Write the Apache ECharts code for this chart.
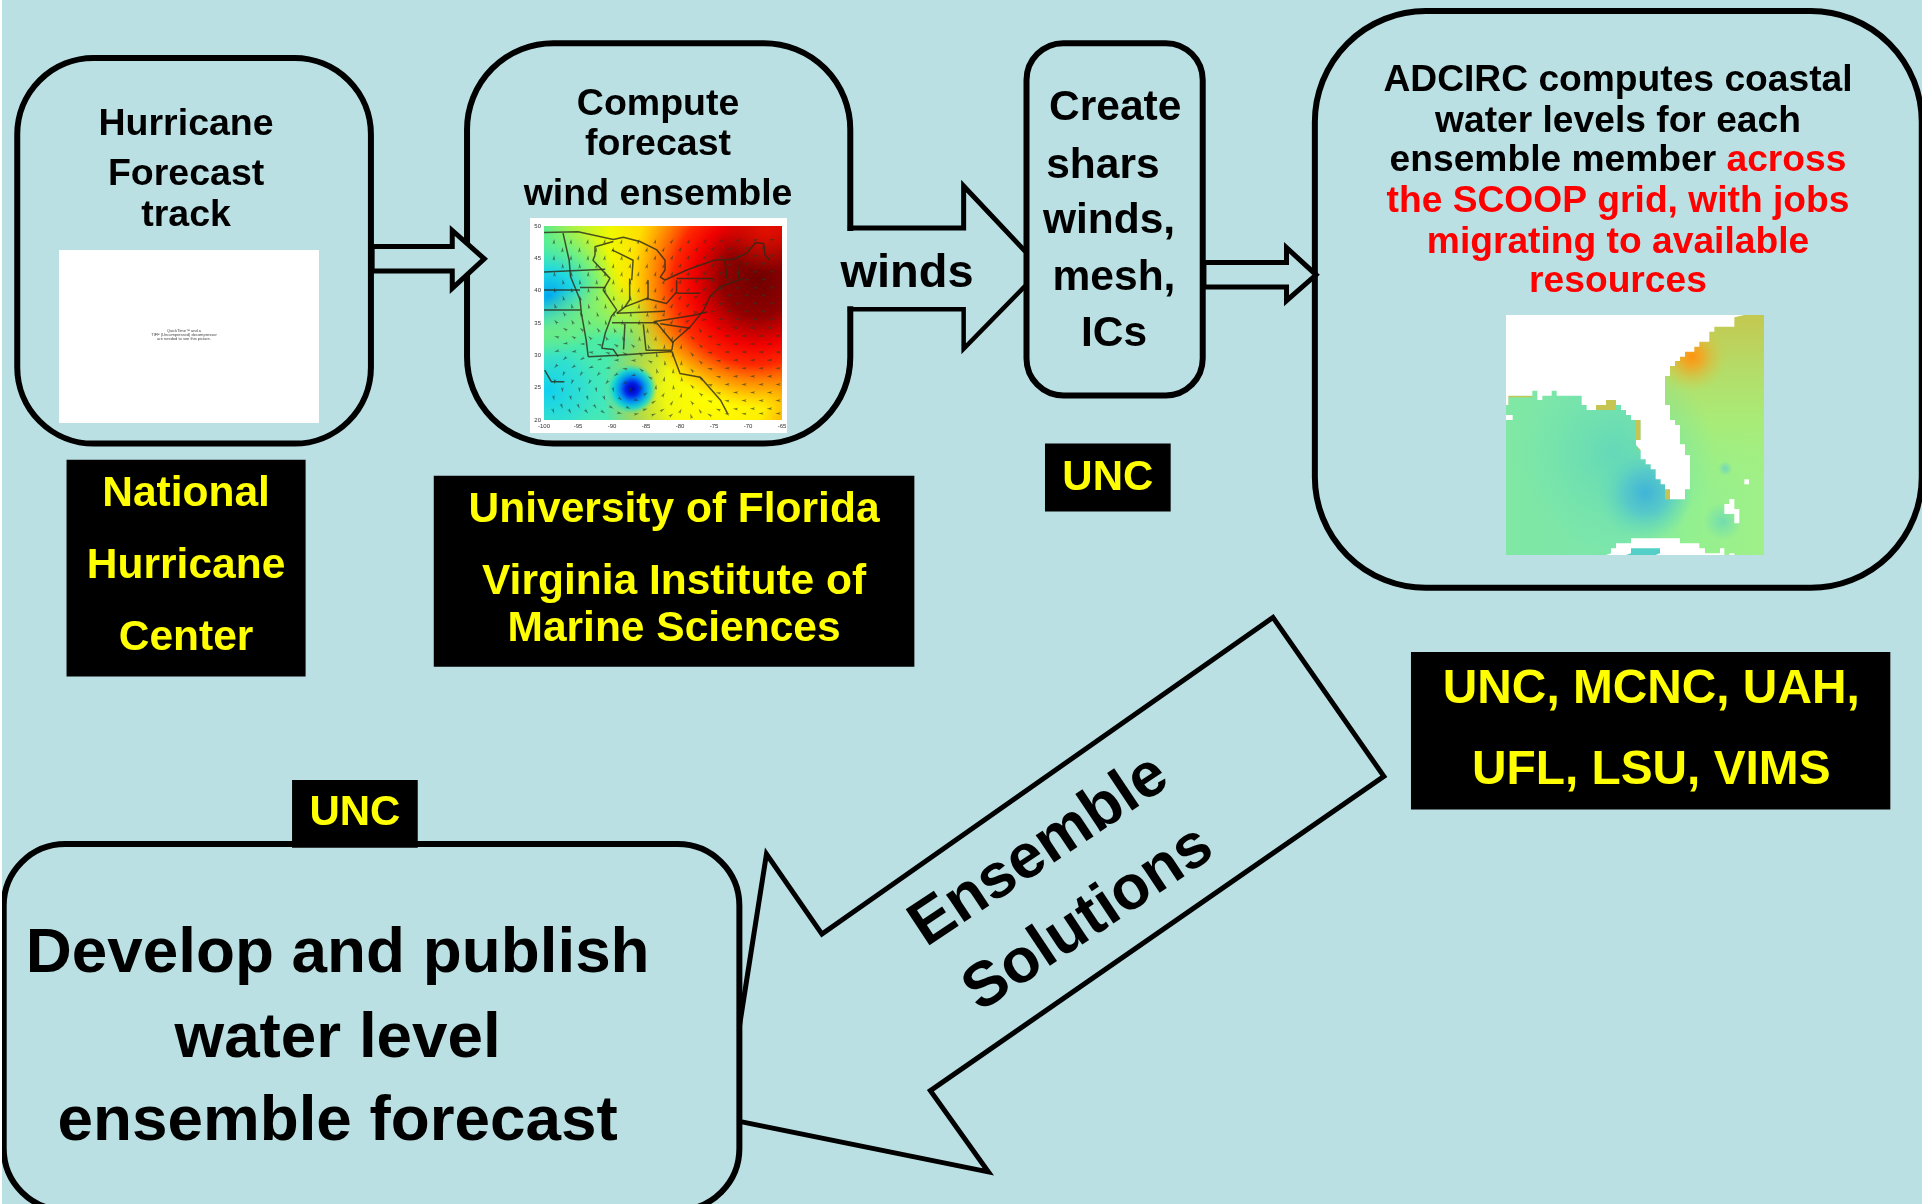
<!DOCTYPE html>
<html><head><meta charset="utf-8">
<style>html,body{margin:0;padding:0;background:#fff}#c{width:1931px;height:1204px}</style>
<script src="https://cdn.jsdelivr.net/npm/echarts@6/dist/echarts.min.js"></script></head>
<body><div id="c"></div>
<script>
// ---------- text content ----------
const trackLines = ['Hurricane','Forecast','track'];
const windLines = ['Compute','forecast','wind ensemble'];
const createLines = ['Create','shars','winds,','mesh,','ICs'];
const adcircBlack = ['ADCIRC computes coastal','water levels for each','ensemble member '];
const adcircRed = ['across','the SCOOP grid, with jobs','migrating to available','resources'];
const publishLines = ['Develop and publish','water level','ensemble forecast'];
const arrowLines = ['Ensemble','Solutions'];
const nhcLines = ['National','Hurricane','Center'];
const uflLines = ['University of Florida','Virginia Institute of','Marine Sciences'];
const partnerLines = ['UNC, MCNC, UAH,','UFL, LSU, VIMS'];
const uncLabel = 'UNC';
const windsLabel = 'winds';
const quickTimeLines = ['QuickTime\u2122 and a','TIFF (Uncompressed) decompressor','are needed to see this picture.'];

// ---------- wind map: axes, wind directions, boundaries (lon/lat) ----------
const windLons = [-98.5,-96,-93.5,-91,-88.5,-86,-83.5,-81,-78.5,-76,-73.5,-71,-68.5,-66];
const windLats = [48,45.5,43,40.5,38,35.5,33,30.5,28,25.5,23,21];
const windDirs = [
 [-5,-5,-10,-10,-15,-15,-20,-30,-30,-40,-50,-60,-70,-75],
 [-5,-5,-5,-10,-10,-15,-20,-25,-35,-45,-55,-65,-75,-80],
 [5,5,0,-5,-10,-15,-15,-25,-35,-50,-60,-70,-80,-85],
 [10,10,5,0,-5,-10,-15,-25,-40,-55,-70,-80,-85,-90],
 [20,15,10,5,0,-5,-10,-30,-50,-70,-85,-90,-95,-95],
 [40,30,20,10,5,0,-10,-30,-60,-90,-100,-100,-100,-100],
 [70,60,45,30,20,5,-10,-20,50,80,90,90,90,90],
 [110,100,85,70,60,35,10,-5,40,80,90,90,90,90],
 [140,125,110,95,80,50,15,0,40,80,90,90,90,90],
 [170,160,150,140,120,20,-5,5,45,80,90,90,90,90],
 [190,190,195,200,230,-100,-60,-30,40,75,85,90,90,90],
 [200,210,220,235,260,-80,-70,-50,20,60,80,85,90,90]
];
const windLons2 = [-97.25,-94.75,-92.25,-89.75,-87.25,-84.75,-82.25,-79.75,-77.25,-74.75,-72.25,-69.75,-67.25];
const windLats2 = [46.75,44.25,41.75,39.25,36.75,34.25,31.75,29.25,26.75,24.25,21.75];
const windDirs2 = [
 [-5,-5,-10,-12,-15,-18,-25,-30,-40,-50,-60,-70,-78],
 [0,0,-5,-8,-12,-15,-20,-30,-42,-55,-65,-75,-85],
 [8,5,0,-5,-8,-12,-20,-30,-48,-62,-75,-85,-90],
 [15,12,8,2,-2,-8,-18,-35,-60,-78,-90,-95,-95],
 [35,25,15,8,2,-5,-18,-45,-80,-95,-100,-100,-100],
 [60,50,35,22,12,-2,-15,-30,30,80,90,90,90],
 [100,90,75,60,50,20,-5,-10,45,80,90,90,90],
 [130,120,105,90,85,60,5,-5,45,80,90,90,90],
 [160,150,140,125,110,60,-10,0,45,80,90,90,90],
 [185,185,190,190,180,-60,-30,-10,50,80,90,90,90],
 [200,205,215,240,-110,-75,-60,-30,30,70,85,90,90]
];
const borderUS = [[-100,49],[-95,49.1],[-89.8,47.9],[-88.35,48.25],[-85.9,47.6],[-83.4,46.3],[-82.2,44.7],[-82.2,43.2],[-82.9,42.1],[-82.2,41.65],[-79,43.2],[-75,44.7],[-72.1,44.85],[-70.2,45.8],[-68.9,47.4],[-67.7,47.3],[-67.5,45.5],[-66.8,44.7]];
const westLine = [[-97.2,48.9],[-96.3,44.7],[-96.1,42.2],[-94.7,38.6],[-94.5,36.5],[-93.8,32.4],[-93.5,29.8]];
const line43 = [[-100,42.9],[-91,43.3]];
const line40 = [[-100,40.1],[-94.7,40.1]];
const line37 = [[-100,37],[-94.6,37]];
const iowaLine = [[-94.7,40.5],[-91,40.5]];
const mississippi = [[-92.5,45.5],[-92.8,44.7],[-90.3,41.9],[-91.3,40.1],[-89.3,37],[-90.1,36],[-91,33.4],[-91.5,31.1],[-89.8,30.9],[-89.1,29.8]];
const wisconsin = [[-92.5,45.5],[-92.5,46.8],[-89.8,47.6]];
const michigan = [[-90,46.3],[-86.9,44.7],[-87.1,41.6]];
const illinoisLine = [[-87.4,41.9],[-87.4,38.6],[-88.1,37.5]];
const ohioLine = [[-84.7,41.6],[-84.7,38.8]];
const ohioRiver = [[-89.3,36.5],[-88.1,37.5],[-84.9,38.8],[-82,38],[-80.5,39.8],[-80.5,41.6]];
const tennessee = [[-89.3,36.5],[-82.2,36.8]];
const virginia = [[-83.9,35.2],[-78,36.2],[-76,36.7]];
const missAlabama = [[-88.1,34.9],[-88.3,30.9]];
const alabamaGeorgia = [[-85.4,34.8],[-85,30.8],[-81.2,30.8]];
const tennSouth = [[-90,35.05],[-83.4,35.05]];
const carolina = [[-83.4,35],[-81,31.9]];
const northCarolina = [[-82.9,34.9],[-78.5,34.2]];
const eastCoast = [[-81.2,30.8],[-81,32.1],[-78.5,34.4],[-76.5,37],[-75.6,39.1],[-74.1,40.6],[-70.7,41.9]];
const penn = [[-80.5,41.9],[-75,41.9]];
const pennSouth = [[-80.5,39.6],[-77,39.6]];
const vermont = [[-73.4,44.7],[-73.1,41.9]];
const maine = [[-71.2,44.7],[-71.4,41.9]];
const mexico = [[-99.9,27.7],[-98.9,25.9],[-97,25.9]];
const gulfCoast = [[-93.5,29.8],[-89.1,30],[-85.4,30.3],[-81.2,30.6],[-80,27.2],[-77,26.6],[-74,23],[-73,21]];
const boundaries = [borderUS,westLine,line43,line40,line37,iowaLine,mississippi,wisconsin,michigan,illinoisLine,ohioLine,ohioRiver,tennessee,virginia,missAlabama,alabamaGeorgia,tennSouth,carolina,northCarolina,eastCoast,penn,pennSouth,vermont,maine,mexico,gulfCoast];

// ---------- ADCIRC grid map: land and dry-cell outlines, in map units ----------
const landNorth = [[78,45],[793,45],[763,52],[763,80],[703,80],[703,95],[688,95],[688,125],[658,125],[658,140],[643,140],[643,155],[615,155],[615,170],[600,170],[600,183],[585,183],[585,198],[570,198],[570,228],[555,228],[555,315],[570,315],[570,360],[585,360],[585,375],[600,375],[600,433],[615,433],[615,465],[630,465],[630,568],[615,568],[615,598],[570,598],[570,568],[555,568],[555,553],[542,553],[542,538],[527,538],[527,508],[512,508],[512,493],[497,493],[497,478],[482,478],[482,450],[468,435],[468,420],[482,420],[482,360],[453,360],[453,345],[438,345],[438,330],[423,330],[423,315],[408,315],[408,300],[378,300],[378,315],[348,315],[348,330],[320,330],[320,315],[305,315],[305,287],[230,287],[230,272],[215,272],[215,287],[187,287],[187,300],[172,300],[172,272],[157,272],[157,287],[85,287],[85,315],[78,315]];
const landWestDot = [[78,345],[98,345],[98,360],[78,360]];
const landCuba = [[378,765],[393,760],[393,745],[408,745],[408,730],[453,730],[453,715],[600,715],[600,730],[658,730],[658,745],[675,745],[675,760],[720,760],[720,745],[733,745],[733,765]];
const landBahama = [[733,612],[748,612],[748,597],[763,597],[763,627],[778,627],[778,670],[763,670],[763,642],[733,642]];
const landDot = [[793,538],[807,538],[807,553],[793,553]];
const landCorner = [[748,760],[763,760],[763,765],[748,765]];
const landAreas = [landNorth,landWestDot,landCuba,landBahama,landDot,landCorner];
const shallowA = [[468,360],[482,360],[482,420],[468,420]];
const shallowB = [[348,315],[378,315],[378,300],[408,300],[408,330],[348,330]];
const shallowC = [[475,435],[497,435],[497,450],[475,450]];
const shallowD = [[555,568],[570,568],[570,598],[555,598]];
const shallowE = [[78,287],[157,287],[157,292],[85,292],[85,315],[78,315]];
const shallowAreas = [shallowA,shallowB,shallowC,shallowD,shallowE];
const cubaPatch = [[438,765],[453,760],[453,745],[540,745],[540,760],[527,765]];

// ---------- layout ----------
const k = 1931/1567;
const INK = '#000', YEL = '#ffff00', RED = '#ff0000', BG = '#bae0e3';
const FONT = '"Liberation Sans", Arial, sans-serif';
const els = [];
function P(a){ return a.map(p=>[p[0]*k,p[1]*k]); }
function txt(s,cx,cy,size,fill,rot){
  els.push({type:'text',x:cx*k,y:cy*k+(rot?0:2),rotation:rot||0,z:10,silent:true,
    style:{text:s,x:0,y:0,align:'center',verticalAlign:'middle',fontFamily:FONT,fontWeight:'bold',fontSize:size,fill:fill}});
}
function box(x0,y0,x1,y1,r){
  els.push({type:'rect',z:3,silent:true,shape:{x:x0*k,y:y0*k,width:(x1-x0)*k,height:(y1-y0)*k,r:r*k},
    style:{fill:'transparent',stroke:INK,lineWidth:6}});
}
function label(x0,y0,x1,y1){
  els.push({type:'rect',z:5,silent:true,shape:{x:x0*k,y:y0*k,width:(x1-x0)*k,height:(y1-y0)*k},style:{fill:INK}});
}
function arrow(pts,w,fill){
  els.push({type:fill?'polygon':'polyline',z:4,silent:true,shape:{points:P(pts)},
    style:{fill:fill||'transparent',stroke:INK,lineWidth:w,lineJoin:'miter'}});
}

// rounded boxes
box(14,47,301,360,62);
box(379,35,690,360,70);
box(833,35,976,321,30);
box(1067,9,1559.5,477,90);
box(3,685,600,982,50);

// arrows
arrow([[302,200],[367,200],[367,187],[393,210],[367,234],[367,220],[302,220]],5,BG);
// gap in the box edge where the "winds" arrow leaves it
els.push({type:'rect',z:3.5,silent:true,shape:{x:684*k,y:187.5*k,width:12*k,height:61*k},style:{fill:BG}});
arrow([[688,185],[782,185],[782,151],[832,204]],5);
arrow([[832,232],[782,283],[782,251],[688,251]],4.5);
arrow([[977,213],[1044,213],[1044,201],[1068,223],[1044,244],[1044,233],[977,233]],5,BG);
arrow([[600,833],[622,693],[667,758],[1033,501],[1123,630],[755,885],[802,951],[600,910]],5);

// white margins of the slide picture
els.push({type:'rect',z:20,silent:true,shape:{x:0,y:0,width:2,height:1204},style:{fill:'#fff'}});
els.push({type:'rect',z:20,silent:true,shape:{x:1922,y:0,width:9,height:1204},style:{fill:'#fff'}});

// white picture placeholder
els.push({type:'rect',z:1,silent:true,shape:{x:59,y:250,width:260,height:173},style:{fill:'#fff'}});
quickTimeLines.forEach((s,i)=>{
  els.push({type:'text',x:184,y:330.5+i*4,z:2,silent:true,style:{text:s,x:0,y:0,align:'center',verticalAlign:'middle',fontFamily:FONT,fontSize:4,fill:'#444'}});
});

// wind-map picture: white backing and colour field
els.push({type:'rect',z:0,silent:true,shape:{x:530,y:218,width:257,height:215},style:{fill:'#fff'}});
const WX=544,WY=226,WW=238,WH=194;
function field(x,y,w,h,layers){
  layers.forEach((g,i)=>els.push({type:'rect',z:0,z2:i+1,silent:true,shape:{x,y,width:w,height:h},style:{fill:g}}));
}
function rad(cx,cy,r,stops){ return {type:'radial',x:cx,y:cy,r:r,colorStops:stops.map(s=>({offset:s[0],color:s[1]}))}; }
function lin(x,y,x2,y2,stops){ return {type:'linear',x,y,x2,y2,colorStops:stops.map(s=>({offset:s[0],color:s[1]}))}; }
field(WX,WY,WW,WH,[
  lin(0,0,1,0,[[0,'#58ea90'],[0.1,'#a0f050'],[0.28,'#f0f800'],[0.4,'#ffe000'],[0.55,'#ffb800'],[0.8,'#ff9800'],[1,'#ff8000']]),
  rad(0.02,0.36,0.38,[[0,'#00a8f0'],[0.35,'#20d8e0'],[0.7,'rgba(80,240,160,.6)'],[1,'rgba(120,240,120,0)']]),
  rad(0.27,0.88,0.6,[[0,'#40e8c0'],[0.5,'rgba(70,235,170,.95)'],[0.8,'rgba(150,240,90,.5)'],[1,'rgba(200,240,40,0)']]),
  rad(0.02,0.85,0.3,[[0,'#10d0f0'],[0.6,'rgba(40,220,220,.7)'],[1,'rgba(60,230,190,0)']]),
  rad(0.72,0.86,0.58,[[0,'#ffff00'],[0.45,'rgba(255,250,0,.9)'],[0.75,'rgba(255,200,0,.5)'],[1,'rgba(255,180,0,0)']]),
  rad(0.72,0.42,0.34,[[0,'rgba(250,10,0,.85)'],[0.6,'rgba(255,50,0,.5)'],[1,'rgba(255,130,0,0)']]),
  rad(0.9,0.28,0.66,[[0,'#700000'],[0.28,'#900000'],[0.5,'#f00000'],[0.66,'#ff2800'],[0.85,'rgba(255,120,0,.6)'],[1,'rgba(255,160,0,0)']]),
  rad(0.93,0.02,0.22,[[0,'#e01000'],[1,'rgba(230,16,0,0)']]),
  rad(0.37,0.84,0.13,[[0,'#0000b0'],[0.25,'#0020e8'],[0.5,'#0090f0'],[0.75,'rgba(0,210,230,.8)'],[1,'rgba(40,230,190,0)']])
]);

// ADCIRC picture colour field
const GX=1506,GY=315,GW=258,GH=240;
field(GX,GY,GW,GH,[
  lin(0,0,1,0,[[0,'#80e8a4'],[0.45,'#7ce6ac'],[0.7,'#92f090'],[1,'#a0f088']]),
  rad(0.42,0.58,0.42,[[0,'#64d8b8'],[1,'rgba(110,225,175,0)']]),
  rad(0.54,0.74,0.2,[[0,'#40b4d8'],[0.45,'#58cac8'],[1,'rgba(100,220,180,0)']]),
  rad(0.84,0.86,0.08,[[0,'rgba(104,216,184,.8)'],[1,'rgba(104,216,184,0)']]),
  rad(0.85,0.64,0.03,[[0,'rgba(102,210,196,.8)'],[1,'rgba(102,210,196,0)']])
]);
field(GX+GW*0.6,GY,GW*0.4,GH*0.75,[
  lin(0,0,0,1,[[0,'#c4c850'],[0.3,'#b4dc68'],[0.6,'#a8ec78'],[1,'rgba(160,240,130,0)']]),
  rad(0.3,0.23,0.35,[[0,'#ff9410'],[0.3,'rgba(240,168,36,.9)'],[1,'rgba(200,210,80,0)']])
]);

// black labels
label(54,373,248,549);
label(352,386,742,541);
label(848,360,950,415);
label(1145,529,1534,657);
label(237,633,339,688);

// box text
const s1=[99.5,140.5,173]; trackLines.forEach((t,i)=>txt(t,151,s1[i],37.5,INK));
const s2=[83,115.5,156]; windLines.forEach((t,i)=>txt(t,534,s2[i],37.5,INK));
const s3=[86.5,133,178,224,270], c3=[905,895,900,904,904]; createLines.forEach((t,i)=>txt(t,c3[i],s3[i],42.5,INK));
txt(windsLabel,736,221,47,INK);
const s4=[64,97];
txt(adcircBlack[0],1313,s4[0],37.2,INK);
txt(adcircBlack[1],1313,s4[1],37.2,INK);
els.push({type:'text',x:1313*k,y:129*k+2,z:10,silent:true,style:{
  text:'{b|'+adcircBlack[2]+'}{r|'+adcircRed[0]+'}',x:0,y:0,align:'center',verticalAlign:'middle',
  rich:{b:{fontFamily:FONT,fontWeight:'bold',fontSize:37.2,fill:INK},r:{fontFamily:FONT,fontWeight:'bold',fontSize:37.2,fill:RED}}}});
const s5=[162,195,227]; adcircRed.slice(1).forEach((t,i)=>txt(t,1313,s5[i],37.2,RED));
const s6=[773,842,909.5]; publishLines.forEach((t,i)=>txt(t,274,s6[i],63.8,INK));
const rot=Math.atan2(141,212);
txt(arrowLines[0],843.5,691,62.5,INK,rot);
txt(arrowLines[1],883.5,746,62.5,INK,rot);
const s7=[399.5,458,516]; nhcLines.forEach((t,i)=>txt(t,151,s7[i],42.5,YEL));
const s8=[412.5,471,509]; uflLines.forEach((t,i)=>txt(t,547,s8[i],42.5,YEL));
txt(uncLabel,899,386.7,42,YEL);
txt(uncLabel,288,658.7,42,YEL);
const s9=[558,623.5]; partnerLines.forEach((t,i)=>txt(t,1340,s9[i],47.8,YEL));

// ---------- series built from the arrays ----------
const windPoints = [];
windLats.forEach((la,r)=>windLons.forEach((lo,c)=>windPoints.push([lo,la,windDirs[r][c]])));
windLats2.forEach((la,r)=>windLons2.forEach((lo,c)=>windPoints.push([lo,la,windDirs2[r][c]])));

const polySeries = (areas,color,z)=>({type:'custom',coordinateSystem:'cartesian2d',xAxisIndex:1,yAxisIndex:1,z:z,silent:true,
  clip:true,animation:false,data:areas.map((a,i)=>[a[0][0],a[0][1]]),
  renderItem:function(params,api){
    return {type:'polygon',shape:{points:areas[params.dataIndex].map(p=>api.coord(p))},style:{fill:color},silent:true};
  }});

const chart = echarts.init(document.getElementById('c'),null,{renderer:'canvas'});
chart.setOption({
  animation:false,
  backgroundColor:BG,
  graphic:{elements:els},
  grid:[
    {left:WX,top:WY,width:WW,height:WH,show:false},
    {left:GX,top:GY,width:GW,height:GH,show:false}
  ],
  xAxis:[
    {gridIndex:0,type:'value',min:-100,max:-65,interval:5,splitLine:{show:false},axisTick:{show:false},axisLine:{show:false},
     axisLabel:{fontSize:6,margin:3,color:'#333',fontFamily:FONT,hideOverlap:false,showMinLabel:true,showMaxLabel:true}},
    {gridIndex:1,type:'value',min:78,max:852,show:false}
  ],
  yAxis:[
    {gridIndex:0,type:'value',min:20,max:50,interval:5,splitLine:{show:false},axisTick:{show:false},axisLine:{show:false},
     axisLabel:{fontSize:6,margin:3,color:'#333',fontFamily:FONT,hideOverlap:false,showMinLabel:true,showMaxLabel:true}},
    {gridIndex:1,type:'value',min:45,max:765,inverse:true,show:false}
  ],
  series:[
    ...boundaries.map(b=>({type:'line',xAxisIndex:0,yAxisIndex:0,data:b,symbol:'none',silent:true,z:2,
      lineStyle:{color:'#2b2b18',width:1.5,opacity:.8}})),
    {type:'scatter',xAxisIndex:0,yAxisIndex:0,data:windPoints,symbol:'arrow',symbolSize:[2,5.5],silent:true,z:3,
      symbolRotate:v=>v[2],itemStyle:{color:'#2a3a28',opacity:.65}},
    polySeries(shallowAreas,'#c6c452',2),
    polySeries(landAreas,'#ffffff',3),
    polySeries([cubaPatch],'#54cfc8',4)
  ]
});
</script></body></html>
